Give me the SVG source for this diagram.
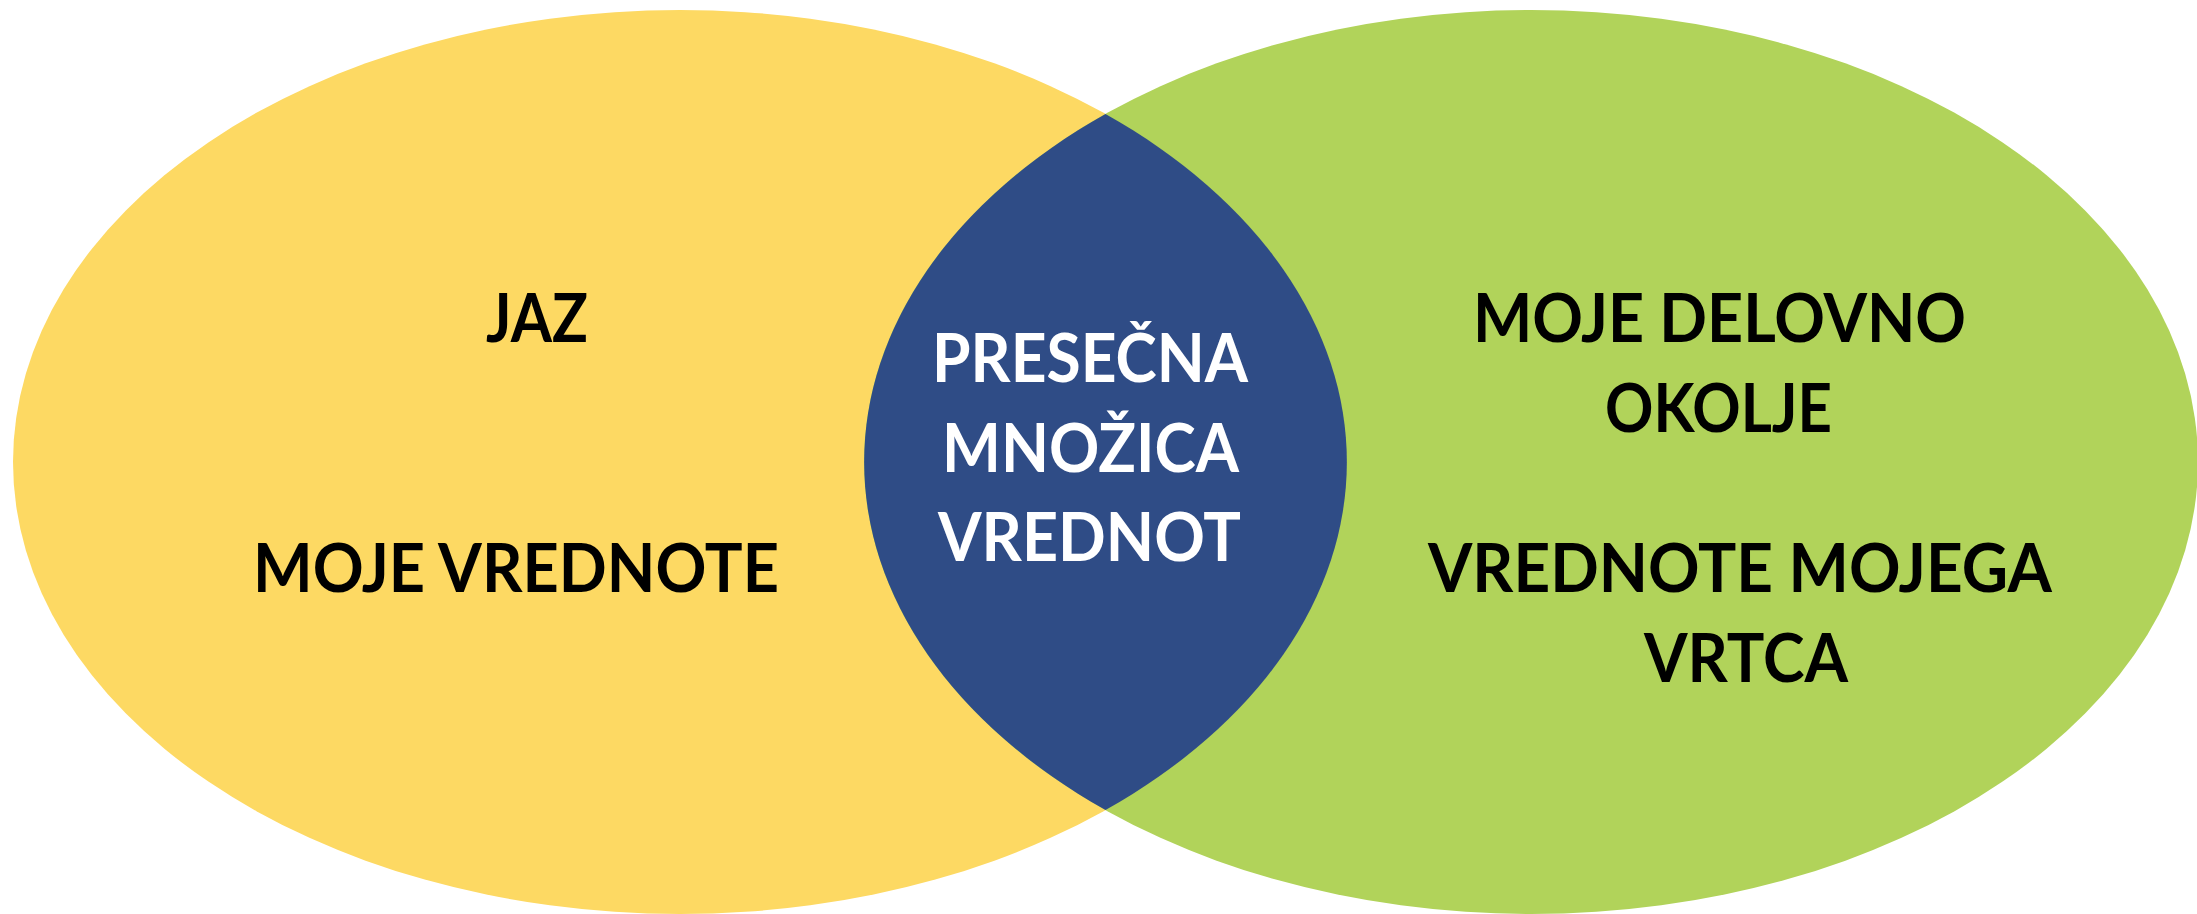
<svg xmlns="http://www.w3.org/2000/svg" width="2197" height="914" viewBox="0 0 2197 914">
  <style>
    .lbl { font-family: Lato, "Open Sans", "Liberation Sans", sans-serif; font-weight: bold; font-size: 66px; text-anchor: middle; }
    .dark { fill: #000000; }
    .light { fill: #FFFFFF; }
  </style>
  <rect width="2197" height="914" fill="#FFFFFF"/>
  <g id="set-jaz">
    <ellipse cx="680" cy="462" rx="667" ry="452" fill="#FDD963"/>
  </g>
  <g id="set-okolje">
    <ellipse cx="1531" cy="462" rx="667" ry="452" fill="#B1D35A"/>
  </g>
  <g id="set-presek">
    <path d="M 1105.5 114 A 667 452 0 0 1 1105.5 810 A 667 452 0 0 1 1105.5 114 Z" fill="#2F4C86"/>
  </g>
  <g id="connectors"/>
  <g id="labels-jaz">
    <text class="lbl dark" x="537" y="342" textLength="102" lengthAdjust="spacingAndGlyphs">JAZ</text>
    <text class="lbl dark" x="516" y="592" textLength="526" lengthAdjust="spacingAndGlyphs">MOJE VREDNOTE</text>
  </g>
  <g id="labels-okolje">
    <text class="lbl dark" x="1719.5" y="342" textLength="493" lengthAdjust="spacingAndGlyphs">MOJE DELOVNO</text>
    <text class="lbl dark" x="1718.5" y="432" textLength="227" lengthAdjust="spacingAndGlyphs">OKOLJE</text>
    <text class="lbl dark" x="1740" y="592" textLength="624" lengthAdjust="spacingAndGlyphs">VREDNOTE MOJEGA</text>
    <text class="lbl dark" x="1746" y="682" textLength="204" lengthAdjust="spacingAndGlyphs">VRTCA</text>
  </g>
  <g id="labels-presek">
    <text class="lbl light" x="1090" y="382" textLength="316" lengthAdjust="spacingAndGlyphs">PRESEČNA</text>
    <text class="lbl light" x="1090.5" y="472" textLength="297" lengthAdjust="spacingAndGlyphs">MNOŽICA</text>
    <text class="lbl light" x="1089.5" y="561" textLength="303" lengthAdjust="spacingAndGlyphs">VREDNOT</text>
  </g>
</svg>
